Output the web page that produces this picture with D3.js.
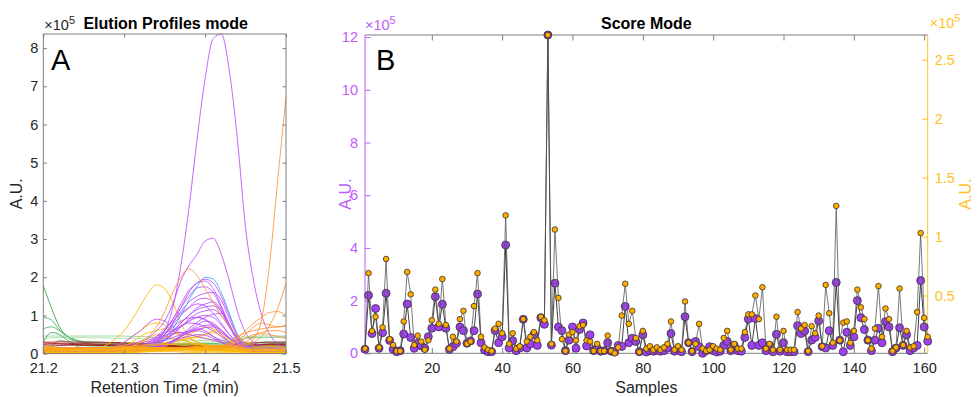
<!DOCTYPE html>
<html><head><meta charset="utf-8">
<script src="https://cdn.jsdelivr.net/npm/d3@7"></script>
<style>body{margin:0;background:#fff}svg{font-family:"Liberation Sans",Arial,Helvetica,sans-serif}</style>
</head><body><svg id="c" width="978" height="397"></svg>
<script>
// ---------- Panel A data (x 1e5 A.U.) ----------
const retentionTime = [21.20,21.21,21.22,21.23,21.24,21.25,21.26,21.27,21.28,21.29,21.30,21.31,21.32,21.33,21.34,21.35,21.36,21.37,21.38,21.39,21.40,21.41,21.42,21.43,21.44,21.45,21.46,21.47,21.48,21.49,21.50];
const xTicksA = [21.2,21.3,21.4,21.5];
const yTicksA = [0,1,2,3,4,5,6,7,8];

const greenProfiles = [
 [1.78,1.2,0.7,0.45,0.35,0.3,0.3,0.28,0.28,0.27, 0.27,0.26,0.26,0.25,0.25,0.25,0.24,0.24,0.24,0.24, 0.25,0.25,0.25,0.26,0.27,0.28,0.28,0.3,0.3,0.3, 0.3],
 [0.95,0.88,0.62,0.42,0.32,0.27,0.25,0.24,0.24,0.23, 0.23,0.22,0.22,0.22,0.22,0.21,0.21,0.21,0.21,0.2, 0.2,0.2,0.21,0.22,0.23,0.24,0.25,0.25,0.26,0.26, 0.27],
 [0.65,0.7,0.6,0.46,0.36,0.32,0.3,0.3,0.29,0.29, 0.28,0.28,0.28,0.27,0.27,0.27,0.26,0.26,0.26,0.26, 0.27,0.27,0.28,0.3,0.35,0.4,0.42,0.42,0.42,0.43, 0.43],
 [0.46,0.46,0.46,0.46,0.46,0.46,0.46,0.46,0.46,0.46, 0.46,0.45,0.45,0.44,0.42,0.4,0.38,0.36,0.35,0.35, 0.35,0.36,0.38,0.4,0.42,0.44,0.45,0.46,0.46,0.46, 0.46],
 [0.4,0.41,0.42,0.42,0.42,0.42,0.41,0.41,0.41,0.4, 0.4,0.4,0.39,0.38,0.36,0.34,0.32,0.3,0.3,0.3, 0.3,0.31,0.33,0.35,0.38,0.4,0.41,0.42,0.42,0.42, 0.42],
 [0.3,0.55,0.5,0.35,0.25,0.22,0.2,0.2,0.2,0.19, 0.19,0.18,0.18,0.18,0.18,0.18,0.18,0.18,0.18,0.18, 0.18,0.18,0.18,0.18,0.18,0.19,0.19,0.2,0.2,0.2, 0.2],
 [0.15,0.2,0.35,0.3,0.2,0.15,0.13,0.12,0.12,0.12, 0.12,0.12,0.12,0.12,0.12,0.12,0.12,0.12,0.12,0.12, 0.12,0.12,0.12,0.12,0.12,0.12,0.13,0.13,0.14,0.14, 0.15]
];
const darkRedProfiles = [
 [0.28,0.27,0.27,0.27,0.26,0.26,0.26,0.25,0.25,0.25, 0.25,0.24,0.24,0.23,0.22,0.21,0.2,0.2,0.2,0.2, 0.2,0.2,0.2,0.2,0.21,0.22,0.23,0.24,0.25,0.25, 0.25],
 [0.2,0.2,0.21,0.22,0.22,0.22,0.22,0.21,0.21,0.2, 0.2,0.2,0.19,0.18,0.17,0.16,0.15,0.15,0.15,0.15, 0.15,0.15,0.15,0.16,0.17,0.18,0.19,0.2,0.2,0.2, 0.2],
 [0.3,0.3,0.31,0.31,0.3,0.3,0.3,0.3,0.29,0.29, 0.28,0.27,0.26,0.25,0.24,0.22,0.21,0.2,0.2,0.2, 0.2,0.2,0.21,0.22,0.24,0.26,0.28,0.29,0.3,0.3, 0.3],
 [0.24,0.25,0.25,0.24,0.24,0.23,0.23,0.23,0.22,0.22, 0.22,0.21,0.21,0.2,0.19,0.18,0.18,0.17,0.17,0.17, 0.17,0.17,0.17,0.18,0.19,0.2,0.22,0.23,0.24,0.24, 0.24]
];
const darkOrangeProfiles = [
 [0.1,0.1,0.1,0.1,0.1,0.1,0.1,0.1,0.1,0.1, 0.1,0.1,0.1,0.1,0.11,0.11,0.12,0.12,0.12,0.12, 0.12,0.12,0.13,0.14,0.16,0.2,0.4,0.9,2.4,4.6, 6.72],
 [0.12,0.12,0.12,0.12,0.12,0.12,0.12,0.12,0.12,0.12, 0.12,0.12,0.13,0.13,0.13,0.14,0.14,0.14,0.15,0.15, 0.15,0.15,0.16,0.18,0.2,0.25,0.3,0.45,0.75,1.2, 1.85],
 [0.15,0.15,0.15,0.15,0.15,0.15,0.15,0.15,0.15,0.15, 0.15,0.15,0.15,0.15,0.15,0.15,0.15,0.15,0.15,0.16, 0.17,0.18,0.2,0.25,0.4,0.6,0.8,0.95,1.08,1.1, 1.0],
 [0.14,0.14,0.14,0.14,0.14,0.14,0.14,0.14,0.14,0.14, 0.14,0.14,0.14,0.14,0.14,0.14,0.14,0.14,0.14,0.14, 0.15,0.16,0.18,0.22,0.35,0.5,0.7,0.8,0.75,0.7, 0.75],
 [0.13,0.13,0.13,0.13,0.13,0.13,0.13,0.13,0.13,0.13, 0.13,0.13,0.13,0.13,0.13,0.13,0.13,0.13,0.13,0.13, 0.14,0.14,0.15,0.18,0.22,0.3,0.45,0.55,0.6,0.6, 0.55],
 [0.1,0.1,0.1,0.1,0.1,0.1,0.1,0.1,0.1,0.12, 0.15,0.2,0.3,0.45,0.7,1.1,1.6,2.0,2.22,2.05, 1.7,1.35,1.0,0.7,0.45,0.3,0.2,0.15,0.15,0.15, 0.15],
 [0.16,0.16,0.16,0.16,0.16,0.16,0.16,0.16,0.16,0.16, 0.16,0.16,0.16,0.16,0.16,0.16,0.16,0.16,0.16,0.16, 0.16,0.17,0.2,0.3,0.45,0.55,0.6,0.65,0.68,0.7, 0.72],
 [0.1,0.1,0.1,0.1,0.1,0.1,0.1,0.1,0.1,0.1, 0.1,0.1,0.1,0.1,0.1,0.1,0.1,0.1,0.11,0.11, 0.12,0.13,0.15,0.2,0.3,0.4,0.5,0.52,0.5,0.45, 0.4]
];
const purpleProfiles = [
 [0.08,0.08,0.08,0.08,0.08,0.08,0.08,0.09,0.1,0.1, 0.11,0.12,0.15,0.22,0.35,0.6,1.2,2.3,3.8,5.6, 7.2,8.25,8.37,7.4,5.6,3.3,1.9,1.0,0.5,0.25, 0.15],
 [0.1,0.1,0.1,0.1,0.1,0.1,0.1,0.1,0.12,0.15, 0.2,0.25,0.32,0.42,0.6,0.85,1.3,1.9,2.3,2.6, 2.95,3.02,2.6,1.9,1.1,0.55,0.3,0.2,0.15,0.12, 0.12],
 [0.06,0.06,0.06,0.06,0.06,0.06,0.06,0.06,0.06,0.06, 0.08,0.1,0.14,0.22,0.38,0.6,0.9,1.3,1.65,1.85, 1.95,1.85,1.5,1.0,0.5,0.25,0.15,0.12,0.1,0.1, 0.1],
 [0.05,0.05,0.05,0.05,0.05,0.05,0.05,0.05,0.05,0.05, 0.06,0.08,0.1,0.15,0.3,0.5,0.8,1.1,1.35,1.5, 1.58,1.6,1.4,0.9,0.45,0.2,0.12,0.1,0.1,0.1, 0.1],
 [0.07,0.07,0.07,0.07,0.07,0.07,0.07,0.07,0.07,0.07, 0.08,0.1,0.12,0.18,0.3,0.5,0.75,1.0,1.2,1.4, 1.45,1.35,1.1,0.7,0.35,0.2,0.14,0.12,0.12,0.12, 0.12],
 [0.09,0.09,0.09,0.09,0.09,0.09,0.09,0.09,0.09,0.09, 0.1,0.12,0.16,0.28,0.45,0.65,0.85,1.05,1.2,1.3, 1.25,1.05,0.8,0.5,0.3,0.2,0.15,0.14,0.14,0.14, 0.14],
 [0.05,0.05,0.05,0.05,0.05,0.05,0.05,0.05,0.05,0.05, 0.05,0.06,0.08,0.12,0.2,0.35,0.5,0.7,0.9,1.05, 1.12,1.15,1.0,0.7,0.4,0.22,0.12,0.09,0.08,0.08, 0.08],
 [0.1,0.1,0.1,0.1,0.1,0.1,0.1,0.12,0.15,0.2, 0.3,0.45,0.6,0.8,0.9,0.85,0.7,0.55,0.6,0.75, 0.85,0.8,0.6,0.4,0.25,0.16,0.12,0.1,0.1,0.1, 0.1],
 [0.06,0.06,0.06,0.06,0.06,0.06,0.06,0.06,0.06,0.06, 0.07,0.08,0.1,0.15,0.25,0.35,0.5,0.7,0.85,0.95, 1.0,0.95,0.75,0.5,0.3,0.18,0.12,0.1,0.1,0.1, 0.1],
 [0.08,0.08,0.08,0.08,0.08,0.08,0.08,0.08,0.08,0.08, 0.09,0.11,0.14,0.2,0.3,0.45,0.6,0.72,0.8,0.78, 0.7,0.6,0.45,0.3,0.2,0.14,0.12,0.12,0.12,0.12, 0.12],
 [0.05,0.05,0.05,0.05,0.05,0.05,0.05,0.05,0.05,0.05, 0.06,0.08,0.1,0.14,0.2,0.25,0.35,0.45,0.55,0.62, 0.68,0.7,0.6,0.4,0.25,0.15,0.1,0.08,0.08,0.08, 0.08],
 [0.1,0.1,0.1,0.1,0.1,0.1,0.1,0.1,0.1,0.1, 0.11,0.13,0.16,0.22,0.3,0.35,0.42,0.5,0.57,0.6, 0.55,0.45,0.35,0.28,0.22,0.18,0.15,0.15,0.15,0.15, 0.15],
 [0.04,0.04,0.04,0.04,0.04,0.04,0.04,0.04,0.04,0.04, 0.05,0.06,0.08,0.1,0.15,0.2,0.3,0.4,0.45,0.5, 0.48,0.4,0.3,0.2,0.12,0.08,0.06,0.06,0.06,0.06, 0.06],
 [0.07,0.07,0.07,0.07,0.07,0.07,0.07,0.07,0.07,0.07, 0.08,0.1,0.15,0.25,0.4,0.6,0.9,1.2,1.5,1.72, 1.75,1.6,1.2,0.75,0.4,0.22,0.15,0.12,0.12,0.12, 0.12],
 [0.09,0.09,0.09,0.09,0.09,0.09,0.09,0.09,0.09,0.09, 0.1,0.12,0.15,0.2,0.28,0.4,0.6,0.8,1.0,1.15, 1.22,1.25,1.1,0.75,0.4,0.22,0.16,0.14,0.14,0.14, 0.14],
 [0.06,0.06,0.06,0.06,0.06,0.06,0.06,0.06,0.06,0.06, 0.07,0.08,0.1,0.12,0.18,0.22,0.3,0.45,0.55,0.65, 0.6,0.45,0.3,0.2,0.13,0.1,0.08,0.08,0.08,0.08, 0.08],
 [0.12,0.12,0.12,0.12,0.12,0.12,0.12,0.12,0.13,0.14, 0.16,0.2,0.26,0.35,0.45,0.55,0.6,0.7,0.85,0.95, 0.9,0.75,0.55,0.4,0.3,0.22,0.18,0.16,0.16,0.16, 0.16],
 [0.08,0.08,0.08,0.08,0.08,0.08,0.08,0.08,0.08,0.08, 0.09,0.1,0.13,0.2,0.32,0.5,0.8,1.2,1.6,1.85, 1.9,1.7,1.25,0.75,0.38,0.2,0.12,0.1,0.1,0.1, 0.1],
 [0.06,0.06,0.06,0.06,0.06,0.06,0.06,0.06,0.06,0.06, 0.07,0.08,0.1,0.14,0.22,0.35,0.55,0.8,1.0,1.2, 1.3,1.35,1.15,0.75,0.38,0.18,0.1,0.08,0.08,0.08, 0.08],
 [0.1,0.1,0.1,0.1,0.1,0.1,0.1,0.1,0.1,0.1, 0.11,0.12,0.15,0.22,0.35,0.5,0.7,0.85,0.93,0.95, 0.88,0.72,0.5,0.3,0.18,0.13,0.11,0.1,0.1,0.1, 0.1],
 [0.05,0.05,0.05,0.05,0.05,0.05,0.05,0.05,0.05,0.05, 0.05,0.06,0.08,0.1,0.15,0.22,0.32,0.45,0.58,0.68, 0.74,0.75,0.62,0.42,0.22,0.12,0.07,0.06,0.06,0.06, 0.06],
 [0.07,0.07,0.07,0.07,0.07,0.07,0.07,0.07,0.07,0.07, 0.08,0.09,0.1,0.12,0.16,0.22,0.32,0.48,0.65,0.82, 0.95,1.03,1.05,0.75,0.38,0.18,0.1,0.08,0.08,0.08, 0.08],
 [0.12,0.12,0.12,0.12,0.12,0.12,0.12,0.12,0.12,0.12, 0.13,0.15,0.2,0.3,0.4,0.48,0.53,0.55,0.5,0.45, 0.4,0.35,0.3,0.22,0.16,0.13,0.12,0.12,0.12,0.12, 0.12]
];
const blueProfiles = [
 [0.15,0.15,0.15,0.15,0.15,0.15,0.15,0.15,0.15,0.15, 0.15,0.15,0.15,0.17,0.25,0.4,0.65,1.0,1.4,1.75, 2.0,1.95,1.6,1.05,0.5,0.25,0.16,0.15,0.15,0.15, 0.15]
];
const yellowPeakProfiles = [
 [0.1,0.1,0.1,0.1,0.1,0.1,0.1,0.15,0.25,0.4, 0.6,0.9,1.25,1.6,1.8,1.7,1.35,0.8,0.45,0.3, 0.25,0.2,0.18,0.15,0.15,0.12,0.12,0.1,0.1,0.1, 0.1],
 [0.08,0.08,0.08,0.08,0.08,0.09,0.1,0.12,0.15,0.2, 0.3,0.45,0.6,0.75,0.8,0.75,0.6,0.45,0.3,0.2, 0.15,0.12,0.1,0.1,0.08,0.08,0.08,0.08,0.08,0.08, 0.08],
 [0.06,0.06,0.06,0.06,0.06,0.06,0.06,0.06,0.08,0.12, 0.2,0.3,0.45,0.55,0.6,0.65,0.6,0.5,0.4,0.3, 0.2,0.15,0.1,0.08,0.06,0.06,0.06,0.06,0.06,0.06, 0.06],
 [0.05,0.05,0.05,0.05,0.05,0.05,0.05,0.06,0.08,0.1, 0.15,0.2,0.3,0.4,0.5,0.45,0.4,0.35,0.3,0.25, 0.2,0.15,0.1,0.08,0.06,0.05,0.05,0.05,0.05,0.05, 0.05],
 [0.04,0.04,0.04,0.04,0.04,0.04,0.04,0.04,0.04,0.04, 0.04,0.05,0.06,0.08,0.12,0.18,0.3,0.4,0.5,0.6, 0.7,0.65,0.5,0.35,0.2,0.1,0.06,0.05,0.04,0.04, 0.04],
 [0.03,0.03,0.04,0.05,0.06,0.08,0.1,0.12,0.15,0.18, 0.22,0.26,0.3,0.32,0.3,0.28,0.3,0.35,0.4,0.42, 0.4,0.35,0.3,0.22,0.15,0.1,0.08,0.06,0.05,0.05, 0.05],
 [0.12,0.12,0.12,0.12,0.12,0.12,0.12,0.12,0.13,0.14, 0.15,0.17,0.2,0.22,0.25,0.28,0.3,0.35,0.4,0.45, 0.5,0.55,0.45,0.3,0.2,0.15,0.13,0.12,0.12,0.12, 0.12],
 [0.2,0.18,0.15,0.12,0.1,0.09,0.08,0.08,0.08,0.09, 0.1,0.12,0.15,0.2,0.28,0.4,0.5,0.55,0.5,0.45, 0.5,0.6,0.55,0.4,0.25,0.15,0.12,0.1,0.09,0.08, 0.08]
];
const yellowBaseProfiles = [
 [0.02,0.02,0.02,0.02,0.02,0.02,0.02,0.02,0.02,0.02, 0.02,0.03,0.04,0.05,0.06,0.07,0.08,0.1,0.12,0.15, 0.18,0.2,0.22,0.2,0.18,0.15,0.15,0.18,0.2,0.18, 0.15],
 [0.01,0.01,0.02,0.02,0.02,0.02,0.03,0.03,0.03,0.04, 0.05,0.06,0.07,0.08,0.09,0.1,0.1,0.1,0.1,0.1, 0.09,0.08,0.07,0.06,0.05,0.04,0.03,0.03,0.02,0.02, 0.02],
 [0.05,0.06,0.07,0.07,0.08,0.08,0.09,0.1,0.1,0.12, 0.14,0.16,0.18,0.2,0.22,0.24,0.25,0.26,0.25,0.24, 0.22,0.2,0.18,0.16,0.14,0.12,0.1,0.1,0.1,0.09, 0.09],
 [0.12,0.12,0.11,0.1,0.1,0.1,0.1,0.1,0.11,0.12, 0.13,0.14,0.15,0.16,0.16,0.15,0.14,0.13,0.13,0.13, 0.13,0.12,0.12,0.11,0.1,0.1,0.1,0.1,0.1,0.1, 0.1],
 [0.08,0.08,0.08,0.08,0.08,0.08,0.08,0.08,0.08,0.09, 0.1,0.11,0.12,0.13,0.14,0.14,0.13,0.12,0.11,0.11, 0.1,0.1,0.09,0.09,0.08,0.08,0.08,0.08,0.08,0.08, 0.08],
 [0.05,0.05,0.05,0.05,0.05,0.05,0.05,0.06,0.06,0.07, 0.08,0.09,0.1,0.11,0.12,0.12,0.11,0.1,0.09,0.08, 0.08,0.07,0.07,0.06,0.06,0.05,0.05,0.05,0.05,0.05, 0.05],
 [0.03,0.03,0.03,0.03,0.03,0.03,0.03,0.03,0.04,0.04, 0.05,0.06,0.07,0.08,0.08,0.08,0.08,0.07,0.06,0.06, 0.05,0.05,0.04,0.04,0.04,0.03,0.03,0.03,0.03,0.03, 0.03],
 [0.01,0.01,0.01,0.01,0.01,0.01,0.01,0.01,0.01,0.02, 0.02,0.03,0.04,0.05,0.05,0.05,0.05,0.04,0.03,0.03, 0.02,0.02,0.02,0.02,0.01,0.01,0.01,0.01,0.01,0.01, 0.01],
 [0.15,0.14,0.13,0.12,0.12,0.13,0.14,0.15,0.16,0.17, 0.18,0.2,0.22,0.24,0.25,0.25,0.24,0.22,0.2,0.18, 0.16,0.15,0.14,0.13,0.12,0.12,0.12,0.12,0.12,0.12, 0.12]
];

// ---------- Panel B data (x 1e5 A.U.), samples 1..161 ----------
const scoreLeft = [
 0.15,2.2,0.75,1.7,0.19,0.78,2.28,0.49,0.15,0.06,
 0.1,0.73,1.87,0.6,0.19,0.38,0.28,0.19,0.63,0.95,
 2.15,1.0,1.86,0.95,0.15,0.25,0.38,1.0,0.86,0.38,
 0.47,0.86,2.25,0.4,0.12,0.06,0.06,0.86,0.4,0.63,
 4.11,0.2,0.48,0.1,0.2,1.29,0.2,0.35,0.7,0.3,
 1.35,1.1,12.08,0.31,2.66,1.0,0.86,0.1,0.5,1.0,
 0.19,0.9,1.15,0.28,0.7,0.1,0.2,0.08,0.1,0.4,
 0.08,0.05,0.3,0.26,1.78,0.4,0.57,0.45,0.06,0.7,
 0.05,0.1,0.08,0.12,0.08,0.1,0.2,0.75,0.08,0.15,
 0.06,1.39,0.4,0.06,0.45,0.25,0.0,0.1,0.25,0.1,
 0.05,0.08,0.3,0.45,0.1,0.3,0.1,0.08,0.6,1.3,
 0.3,1.32,0.3,0.4,0.1,0.3,0.06,0.72,0.08,0.4,
 0.06,0.06,0.06,1.05,0.75,0.85,0.06,0.5,0.6,1.23,
 0.25,0.2,0.86,0.3,2.69,0.5,0.06,0.8,0.3,0.62,
 2.0,1.35,0.9,0.5,0.1,0.5,0.95,0.4,1.2,1.0,
 0.06,0.2,0.97,0.3,0.7,0.1,0.2,0.3,2.76,1.0,
 0.46];
const scoreRight = [
 0.05,0.69,0.2,0.32,0.06,0.23,0.81,0.13,0.08,0.03,
 0.03,0.28,0.7,0.51,0.08,0.16,0.11,0.04,0.12,0.29,
 0.55,0.26,0.64,0.25,0.05,0.15,0.11,0.3,0.37,0.09,
 0.11,0.41,0.69,0.15,0.06,0.04,0.03,0.22,0.26,0.18,
 1.18,0.09,0.18,0.05,0.07,0.3,0.11,0.15,0.19,0.12,
 0.32,0.29,2.71,0.09,1.06,0.48,0.13,0.03,0.17,0.19,
 0.12,0.24,0.25,0.12,0.11,0.03,0.09,0.03,0.03,0.16,
 0.03,0.01,0.06,0.33,0.6,0.26,0.37,0.14,0.02,0.2,
 0.05,0.07,0.04,0.06,0.04,0.06,0.09,0.28,0.04,0.07,
 0.04,0.45,0.1,0.03,0.09,0.26,0.05,0.03,0.04,0.07,
 0.05,0.04,0.14,0.2,0.04,0.09,0.05,0.05,0.19,0.34,
 0.34,0.5,0.3,0.57,0.05,0.09,0.04,0.32,0.04,0.2,
 0.04,0.04,0.04,0.36,0.22,0.25,0.03,0.24,0.18,0.33,
 0.07,0.59,0.35,0.1,1.26,0.12,0.27,0.28,0.1,0.2,
 0.55,0.4,0.3,0.12,0.05,0.22,0.58,0.15,0.39,0.3,
 0.03,0.06,0.56,0.08,0.2,0.06,0.07,0.36,1.03,0.31,
 0.15];
const xTicksB = [20,40,60,80,100,120,140,160];
const yTicksLeft = [0,2,4,6,8,10,12];
const yTicksRight = [0.5,1,1.5,2,2.5];

// ---------- drawing ----------
const svg = d3.select('#c');
const txt = '#262626', box = '#7f7f7f';
const purpleAxis = '#bf5bff', orangeAxis = '#ffc125';

function styleAxis(g, color, lineColor, fs) {
  g.attr('font-family', null).attr('font-size', null);
  g.select('.domain').remove();
  g.selectAll('line').attr('stroke', lineColor || color).attr('stroke-width', 1);
  g.selectAll('text').attr('fill', color).style('font-size', fs || '14.5px');
}
function sup(sel, x, y, color) {
  const t = sel.append('text').attr('x', x).attr('y', y).attr('fill', color).style('font-size', '14.5px');
  t.append('tspan').text('\u00d710');
  t.append('tspan').attr('dy', -6).style('font-size', '11px').text('5');
}

// Panel A
const A = {l: 43.3, r: 286, t: 34, b: 353.6};
const groupsA = [
  {data: greenProfiles, colors: ['#2e9f48','#3aab52','#46b35c','#8fd493','#a6dea6','#2e9f48','#5cbf6a']},
  {data: darkRedProfiles, colors: ['#a3101a','#8f0a12','#b0141e','#9a0c16']},
  {data: yellowPeakProfiles, colors: ['#ffb400']},
  {data: purpleProfiles, colors: ['#b84dff']},
  {data: blueProfiles, colors: ['#3aa3f5']},
  {data: darkOrangeProfiles, colors: ['#ff9233']},
  {data: yellowBaseProfiles, colors: ['#ffb400']}
];
const maxA = d3.max(groupsA.flatMap(g => g.data.flat()));
const xA = d3.scaleLinear().domain([retentionTime[0], retentionTime[retentionTime.length-1]]).range([A.l, A.r]);
const yA = d3.scaleLinear().domain([0, maxA]).range([A.b, A.t]);
const lineA = d3.line().x((d, i) => xA(retentionTime[i])).y(d => yA(d)).curve(d3.curveMonotoneX);
const gA = svg.append('g');
groupsA.forEach(g => g.data.forEach((c, j) => {
  gA.append('path').attr('d', lineA(c)).attr('fill', 'none')
    .attr('stroke', g.colors[j % g.colors.length]).attr('stroke-width', 0.85);
}));
const axA = svg.append('g');
styleAxis(axA.append('g').attr('transform', `translate(0,${A.b})`)
  .call(d3.axisBottom(xA).tickValues(xTicksA).tickFormat(d3.format('.1f')).tickSize(-3.5).tickPadding(9)), txt, box);
styleAxis(axA.append('g').attr('transform', `translate(0,${A.t})`)
  .call(d3.axisTop(xA).tickValues(xTicksA).tickFormat('').tickSize(-3.5)), txt, box);
styleAxis(axA.append('g').attr('transform', `translate(${A.l},0)`)
  .call(d3.axisLeft(yA).tickValues(yTicksA).tickSize(-3.5).tickPadding(5)), txt, box);
styleAxis(axA.append('g').attr('transform', `translate(${A.r},0)`)
  .call(d3.axisRight(yA).tickValues(yTicksA).tickFormat('').tickSize(-3.5)), txt, box);
axA.append('rect').attr('x', A.l).attr('y', A.t).attr('width', A.r - A.l).attr('height', A.b - A.t)
  .attr('fill', 'none').attr('stroke', box).attr('stroke-width', 1);
sup(axA, A.l + 1, 30, txt);
axA.append('text').attr('x', (A.l + A.r) / 2 + 1).attr('y', 29).attr('text-anchor', 'middle')
  .style('font-size', '16px').style('font-weight', 'bold').attr('fill', '#000').text('Elution Profiles mode');
axA.append('text').attr('x', 51).attr('y', 70).style('font-size', '29px').attr('fill', '#000').text('A');
axA.append('text').attr('x', (A.l + A.r) / 2).attr('y', 393).attr('text-anchor', 'middle')
  .style('font-size', '16px').attr('fill', txt).text('Retention Time (min)');
axA.append('text').attr('transform', `translate(22,${(A.t + A.b) / 2}) rotate(-90)`).attr('text-anchor', 'middle')
  .style('font-size', '16px').attr('fill', txt).text('A.U.');

// Panel B
const B = {l: 365, r: 927.7, t: 35, b: 353.3};
const samples = scoreLeft.map((d, i) => i + 1);
const xB = d3.scaleLinear().domain([samples[0], samples[samples.length - 1]]).range([B.l, B.r]);
const yL = d3.scaleLinear().domain([0, d3.max(scoreLeft)]).range([B.b, B.t]);
const yR = d3.scaleLinear().domain([0.01, d3.max(scoreRight)]).range([B.b, B.t]);
const gB = svg.append('g');
const axB = gB.append('g');
styleAxis(axB.append('g').attr('transform', `translate(0,${B.b})`)
  .call(d3.axisBottom(xB).tickValues(xTicksB).tickSize(-5.5).tickPadding(9)), txt, box);
styleAxis(axB.append('g').attr('transform', `translate(0,${B.t})`)
  .call(d3.axisTop(xB).tickValues(xTicksB).tickFormat('').tickSize(-5.5)), txt, box);
styleAxis(axB.append('g').attr('transform', `translate(${B.l},0)`)
  .call(d3.axisLeft(yL).tickValues(yTicksLeft).tickSize(-5.5).tickPadding(7)), purpleAxis);
styleAxis(axB.append('g').attr('transform', `translate(${B.r},0)`)
  .call(d3.axisRight(yR).tickValues(yTicksRight).tickFormat(d => String(d)).tickSize(-5.5).tickPadding(7)), orangeAxis);
axB.append('line').attr('x1', B.l).attr('x2', B.r).attr('y1', B.t).attr('y2', B.t).attr('stroke', box);
axB.append('line').attr('x1', B.l).attr('x2', B.r).attr('y1', B.b).attr('y2', B.b).attr('stroke', box);
axB.append('line').attr('x1', B.l).attr('x2', B.l).attr('y1', B.t).attr('y2', B.b).attr('stroke', purpleAxis);
axB.append('line').attr('x1', B.r).attr('x2', B.r).attr('y1', B.t).attr('y2', B.b).attr('stroke', orangeAxis);

const lineL = d3.line().x((d, i) => xB(samples[i])).y(d => yL(d));
const lineR = d3.line().x((d, i) => xB(samples[i])).y(d => yR(d));
gB.append('path').attr('d', lineL(scoreLeft)).attr('fill', 'none').attr('stroke', '#111').attr('stroke-width', 0.8);
gB.selectAll('circle.l').data(scoreLeft).join('circle').attr('class', 'l')
  .attr('cx', (d, i) => xB(samples[i])).attr('cy', d => yL(d)).attr('r', 4)
  .attr('fill', '#a040ee').attr('stroke', '#3a2a4a').attr('stroke-width', 0.8);
gB.append('path').attr('d', lineR(scoreRight)).attr('fill', 'none').attr('stroke', '#555').attr('stroke-width', 0.8);
gB.selectAll('circle.r').data(scoreRight).join('circle').attr('class', 'r')
  .attr('cx', (d, i) => xB(samples[i])).attr('cy', d => yR(d)).attr('r', 2.8)
  .attr('fill', '#ffad00').attr('stroke', '#3a3020').attr('stroke-width', 0.8);

sup(gB, B.l, 30, purpleAxis);
sup(gB, B.r + 2, 28, orangeAxis);
gB.append('text').attr('x', (B.l + B.r) / 2).attr('y', 29).attr('text-anchor', 'middle')
  .style('font-size', '16px').style('font-weight', 'bold').attr('fill', '#000').text('Score Mode');
gB.append('text').attr('x', 376).attr('y', 70).style('font-size', '29px').attr('fill', '#000').text('B');
gB.append('text').attr('x', (B.l + B.r) / 2).attr('y', 393).attr('text-anchor', 'middle')
  .style('font-size', '16px').attr('fill', txt).text('Samples');
gB.append('text').attr('transform', `translate(351,${(B.t + B.b) / 2}) rotate(-90)`).attr('text-anchor', 'middle')
  .style('font-size', '16px').attr('fill', purpleAxis).text('A.U.');
gB.append('text').attr('transform', `translate(971,${(B.t + B.b) / 2}) rotate(-90)`).attr('text-anchor', 'middle')
  .style('font-size', '16px').attr('fill', orangeAxis).text('A.U.');
</script></body></html>
